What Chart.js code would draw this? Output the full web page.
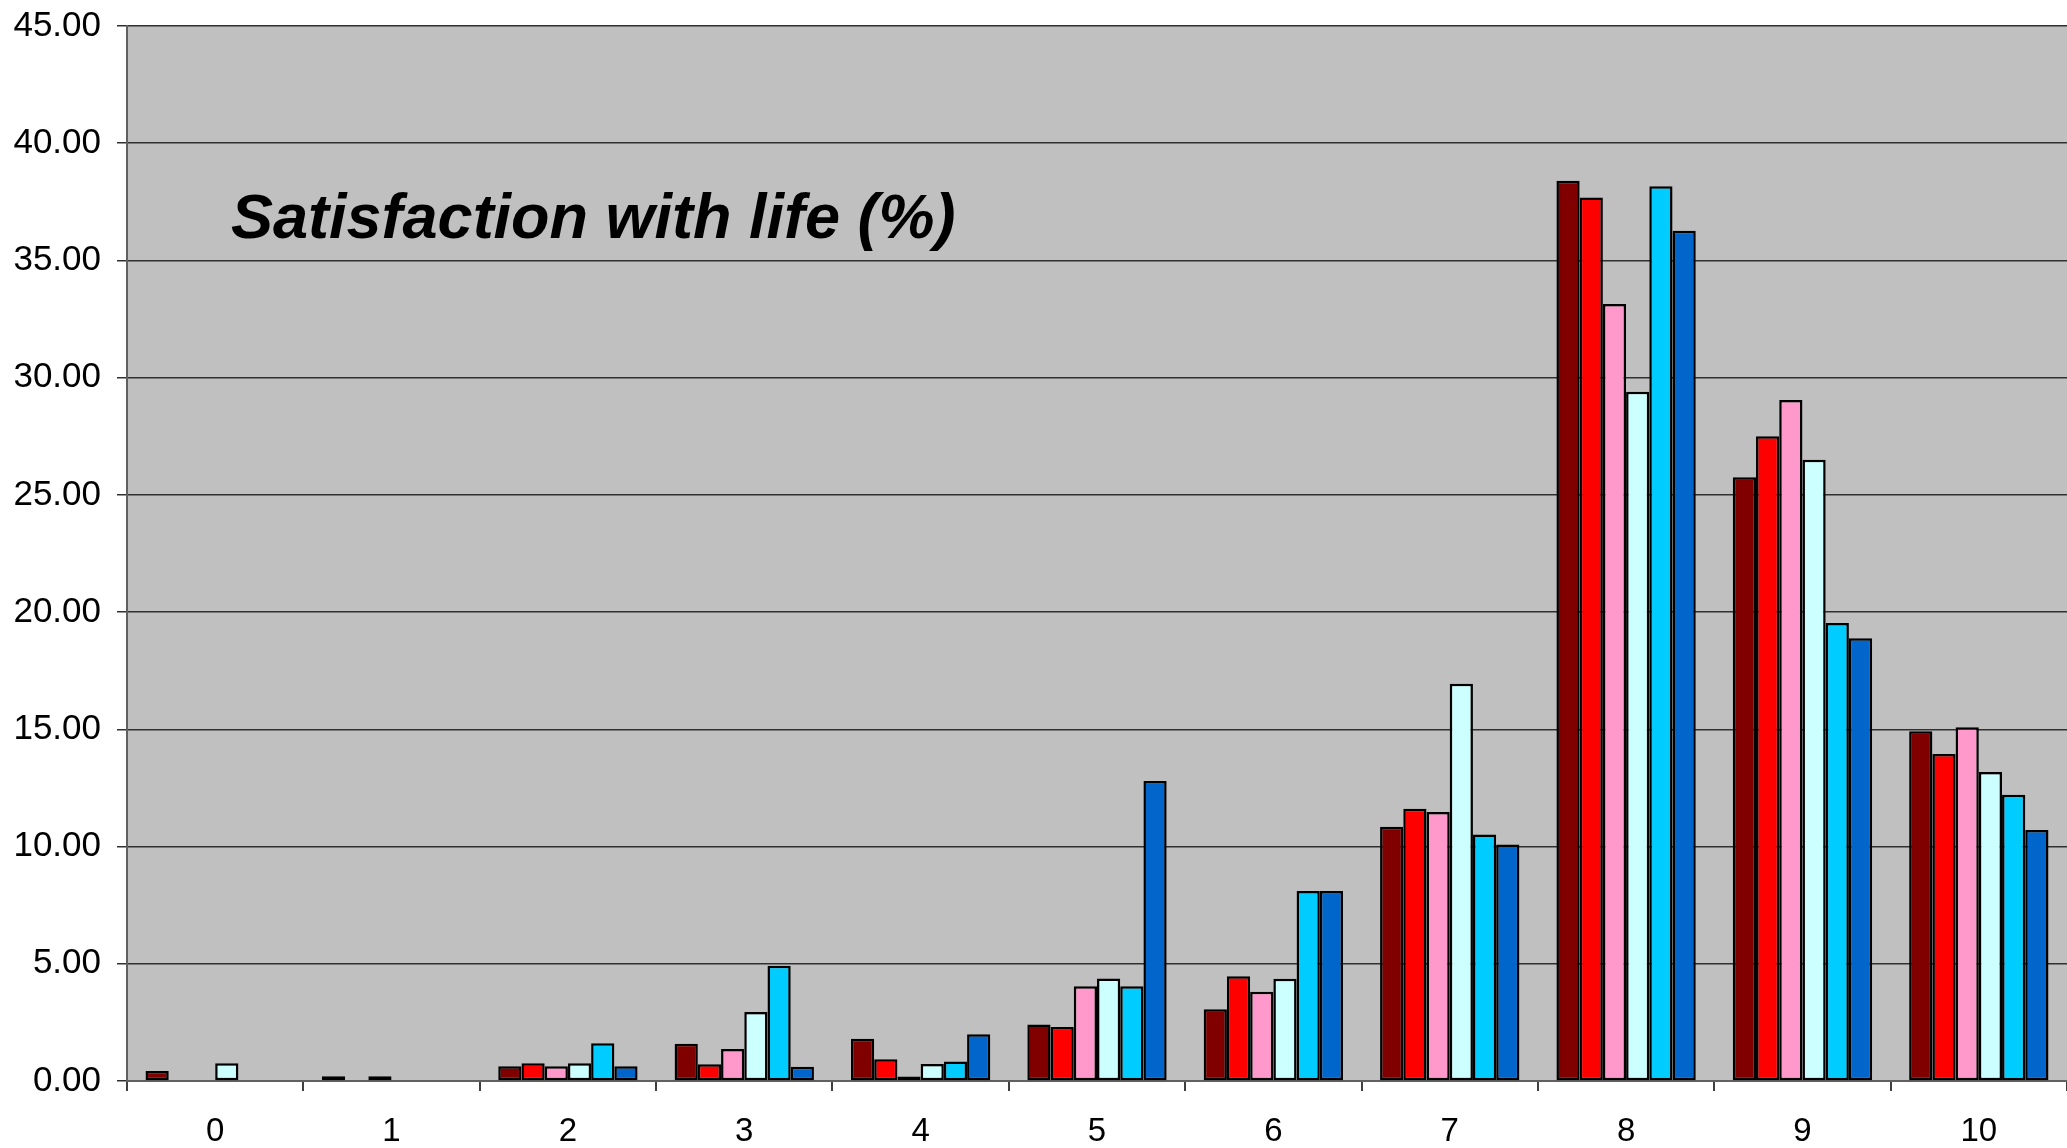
<!DOCTYPE html>
<html>
<head>
<meta charset="utf-8">
<script src="https://cdn.jsdelivr.net/npm/chart.js@4/dist/chart.umd.min.js"></script>
<style>
  html, body { margin: 0; padding: 0; background: #ffffff; }
  #wrap { width: 2067px; height: 1148px; position: relative; }
</style>
</head>
<body>
<div id="wrap"><canvas id="chart"></canvas></div>
<script>
// Life-satisfaction score (0-10) on the x axis
const categories = ['0', '1', '2', '3', '4', '5', '6', '7', '8', '9', '10'];

// Share of respondents (%) per score, one array per group
const series1 = [0.43, 0.20, 0.63, 1.59, 1.80, 2.41, 3.06, 10.84, 38.40, 25.75, 14.92];
const series2 = [0.00, 0.00, 0.76, 0.71, 0.93, 2.30, 4.47, 11.61, 37.68, 27.50, 13.95];
const series3 = [0.00, 0.20, 0.63, 1.37, 0.19, 4.04, 3.81, 11.47, 33.14, 29.05, 15.09];
const series4 = [0.76, 0.00, 0.76, 2.94, 0.73, 4.37, 4.36, 16.94, 29.40, 26.50, 13.18];
const series5 = [0.00, 0.00, 1.61, 4.92, 0.83, 4.04, 8.10, 10.51, 38.17, 19.54, 12.21];
const series6 = [0.00, 0.00, 0.63, 0.61, 1.99, 12.80, 8.10, 10.09, 36.27, 18.89, 10.71];

const yTicks = [0, 5, 10, 15, 20, 25, 30, 35, 40, 45];
const chartTitle = 'Satisfaction with life (%)';

const FONT = "'Liberation Sans', Arial, sans-serif";

// Grey plot background and the in-plot title
const plotDecor = {
  id: 'plotDecor',
  beforeDraw(chart) {
    const { ctx, chartArea: a } = chart;
    ctx.save();
    ctx.fillStyle = '#c0c0c0';
    ctx.fillRect(a.left, a.top, a.right - a.left, a.bottom - a.top);
    ctx.restore();
  },
  afterDatasetsDraw(chart) {
    const { ctx, chartArea: a } = chart;
    ctx.save();
    ctx.font = "italic bold 63px " + FONT;
    ctx.fillStyle = '#000000';
    ctx.textAlign = 'left';
    ctx.textBaseline = 'alphabetic';
    ctx.fillText(chartTitle, a.left + 104, a.top + 212);
    ctx.restore();
  }
};

const barStyle = (color) => ({
  backgroundColor: color,
  borderColor: '#000000',
  borderWidth: 2.5,
  borderSkipped: false,
  categoryPercentage: 0.79,
  barPercentage: 1.0
});

new Chart(document.getElementById('chart'), {
  type: 'bar',
  data: {
    labels: categories,
    datasets: [
      Object.assign({ label: 'Series 1', data: series1 }, barStyle('#800000')),
      Object.assign({ label: 'Series 2', data: series2 }, barStyle('#ff0000')),
      Object.assign({ label: 'Series 3', data: series3 }, barStyle('#ff99cc')),
      Object.assign({ label: 'Series 4', data: series4 }, barStyle('#ccffff')),
      Object.assign({ label: 'Series 5', data: series5 }, barStyle('#00ccff')),
      Object.assign({ label: 'Series 6', data: series6 }, barStyle('#0066cc'))
    ]
  },
  options: {
    responsive: true,
    maintainAspectRatio: false,
    animation: false,
    layout: { padding: { top: 26, right: 0, bottom: 0, left: 0 } },
    plugins: {
      legend: { display: false },
      title: { display: false },
      tooltip: { enabled: false }
    },
    scales: {
      x: {
        offset: true,
        grid: {
          offset: true,
          drawOnChartArea: false,
          drawTicks: true,
          tickLength: 10,
          color: '#404040',
          lineWidth: 2
        },
        border: { display: true, color: '#606060', width: 2 },
        ticks: {
          color: '#000000',
          padding: 21,
          font: { family: FONT, size: 33 }
        },
        afterFit(scale) { scale.height = 67; }
      },
      y: {
        min: 0,
        max: 45,
        afterBuildTicks(scale) { scale.ticks = yTicks.map(v => ({ value: v })); },
        grid: {
          color: '#303030',
          lineWidth: 1.5,
          drawTicks: true,
          tickLength: 10
        },
        border: { display: true, color: '#606060', width: 2 },
        ticks: {
          color: '#000000',
          padding: 16,
          font: { family: FONT, size: 35, lineHeight: 0.5 },
          callback: (v) => Number(v).toFixed(2)
        },
        afterFit(scale) { scale.width = 127; }
      }
    }
  },
  plugins: [plotDecor]
});
</script>
</body>
</html>
